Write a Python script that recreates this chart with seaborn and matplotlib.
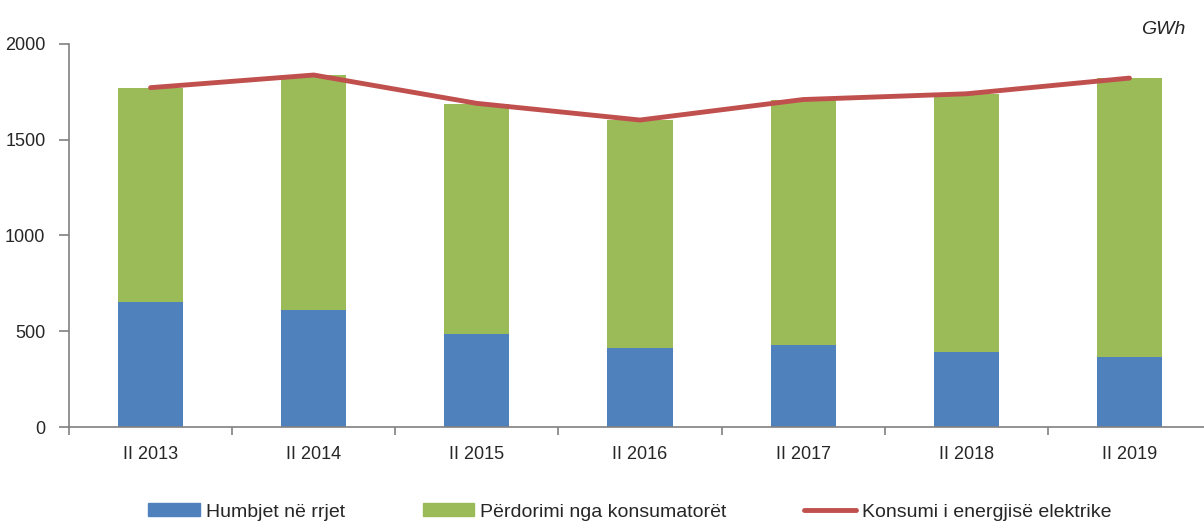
import pandas as pd
import matplotlib.pyplot as plt
import seaborn as sns
from matplotlib.patches import Patch
from matplotlib.lines import Line2D

periods = ["II 2013", "II 2014", "II 2015", "II 2016", "II 2017", "II 2018", "II 2019"]
humbjet = [655, 611, 486, 413, 428, 392, 366]
perdorimi = [1115, 1227, 1201, 1190, 1280, 1347, 1456]
konsumi = [1772, 1838, 1690, 1603, 1710, 1740, 1822]

df = pd.DataFrame({"periudha": periods, "humbjet": humbjet, "perdorimi": perdorimi, "konsumi": konsumi})
df["total"] = df["humbjet"] + df["perdorimi"]

sns.set_style("white")
plt.rcParams["font.family"] = ["Liberation Sans", "DejaVu Sans"]

blue = "#4F81BD"
green = "#9BBB59"
red = "#C0504D"
grey = "#808080"

fig = plt.figure(figsize=(12.04, 5.23), dpi=100)
ax = fig.add_axes([69 / 1204, 1 - 427 / 523, (1211 - 69) / 1204, 383 / 523])

sns.barplot(x="periudha", y="total", data=df, color=green, width=0.4, saturation=1, linewidth=0, ax=ax)
sns.barplot(x="periudha", y="humbjet", data=df, color=blue, width=0.4, saturation=1, linewidth=0, ax=ax)
ax.plot(range(len(periods)), df["konsumi"], color=red, lw=3.5, solid_capstyle="round")

ax.set_xlim(-0.5, 6.5)
ax.set_ylim(0, 2000)
ax.set_yticks([0, 500, 1000, 1500, 2000])
ax.set_xlabel("")
ax.set_ylabel("")
for s in ["top", "right"]:
    ax.spines[s].set_visible(False)
for s in ["left", "bottom"]:
    ax.spines[s].set_color(grey)
    ax.spines[s].set_linewidth(1.2)

ax.tick_params(axis="y", which="major", direction="out", length=7, color=grey, width=1.2,
               left=True, labelsize=13, pad=10)
ax.tick_params(axis="x", which="major", length=0, labelsize=13, pad=14)
ax.set_xticks([i - 0.5 for i in range(len(periods) + 1)], minor=True)
ax.tick_params(axis="x", which="minor", direction="out", length=6, color=grey, width=1.2, bottom=True)

fig.text(1185 / 1204, 1 - 29 / 523, "GWh", fontsize=14, style="italic", ha="right", va="center")

handles = [Patch(color=blue, label="Humbjet në rrjet"),
           Patch(color=green, label="Përdorimi nga konsumatorët"),
           Line2D([0], [0], color=red, lw=3.5, label="Konsumi i energjisë elektrike")]
fig.legend(handles=handles, loc="center", bbox_to_anchor=(0.523, 1 - 512 / 523), ncol=3,
           frameon=False, fontsize=14, handlelength=2.65, handleheight=0.6,
           handletextpad=0.3, columnspacing=4.0)

fig.savefig("out.png", dpi=100)
